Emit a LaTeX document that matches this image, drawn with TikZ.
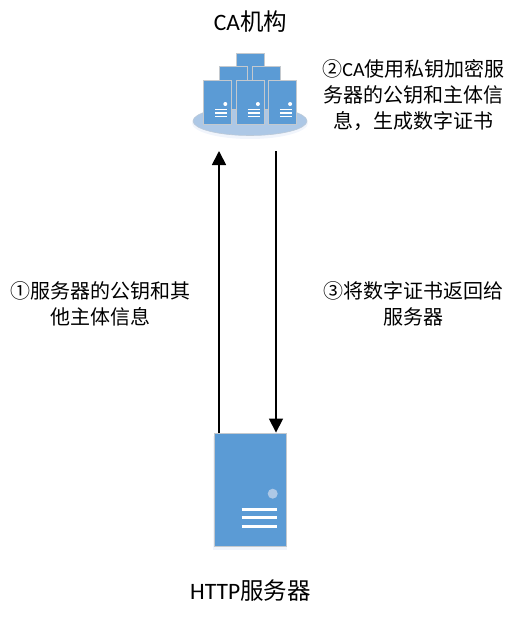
\documentclass[tikz,border=0pt]{standalone}
\usepackage{fontspec}
\setmainfont{Carlito}
\newfontfamily\cjk{Noto Sans CJK SC}
\usetikzlibrary{arrows.meta,shapes.geometric}
\definecolor{srvblue}{HTML}{5B9BD5}
\definecolor{srvedge}{HTML}{C4C9CE}
\definecolor{srvdot}{HTML}{ADC8E6}
\definecolor{srvglow}{HTML}{F1F5FC}
\newcommand\lat[1]{{\rmfamily #1}}
\tikzset{
  srvbox/.style={rectangle, draw=srvedge, line width=0.9pt, fill=srvblue, inner sep=0pt, minimum width=#1},
  srvline/.style={draw=white, line cap=butt},
  flow/.style={line width=1.7pt, -{Triangle[length=14pt,width=14pt]}},
  label/.style={inner sep=0pt, align=center, font=\fontsize{20}{26}\selectfont\cjk},
  title/.style={inner sep=0pt, align=center, font=\fontsize{23.5}{26}\selectfont\cjk}
}
\begin{document}
\begin{tikzpicture}[x=1pt, y=-1pt]
\useasboundingbox (0,0) rectangle (515,618);

% CA base
\fill[srvglow] (250,123) ellipse (58 and 16);
\node[ellipse, fill=srvdot, draw=srvedge!60!srvdot, line width=0.6pt, minimum width=114pt, minimum height=29pt, inner sep=0pt] (cabase) at (250,121) {};

% back rows of the CA group
\node[srvbox=28pt, minimum height=43.5pt] (catop) at (250,75.7) {};
\node[srvbox=28pt, minimum height=43.5pt] (camidl) at (233.7,88) {};
\node[srvbox=28pt, minimum height=43.5pt] (camidr) at (266.5,88) {};

% front row of the CA group
\foreach \srv/\cx in {casrva/217.7, casrvb/250.3, casrvc/282.5}
{
\node[srvbox=28pt, minimum height=43.5pt] (\srv) at (\cx,102.5) {};
\fill[white] (\cx+7.6,104) circle (2);
\foreach \ly in {109.3, 113, 116.7}
{
\draw[srvline, line width=1.1pt] (\cx-2.7,\ly) -- (\cx+9.3,\ly);
}
}

% HTTP server
\fill[srvglow] (213,436) rectangle (287,550);
\node[srvbox=72pt, minimum height=113pt] (httpsrv) at (250,489.5) {};
\fill[srvdot] (272.7,493.7) circle (5);
\foreach \ly in {509, 517.7, 526.3}
{
\draw[srvline, line width=3pt] (241.7,\ly) -- (277,\ly);
}

% arrow ends below the CA group
\coordinate (caup) at (219,151);
\coordinate (cadown) at (276,151);

% arrows
\draw[flow] (httpsrv.north -| caup) -- (caup);
\draw[flow] (cadown) -- (httpsrv.north -| cadown);

% labels
\node[title] (catitle) at (250.5,22) {\lat{CA}机构};
\node[title] (httptitle) at (250.5,591) {\lat{HTTP}服务器};
\node[label] (signtext) at (413.5,95) {②\lat{CA}使用私钥加密服\\务器的公钥和主体信\\息，生成数字证书};
\node[label] (sendtext) at (100,304) {①服务器的公钥和其\\他主体信息};
\node[label] (backtext) at (413,304) {③将数字证书返回给\\服务器};
\end{tikzpicture}
\end{document}
